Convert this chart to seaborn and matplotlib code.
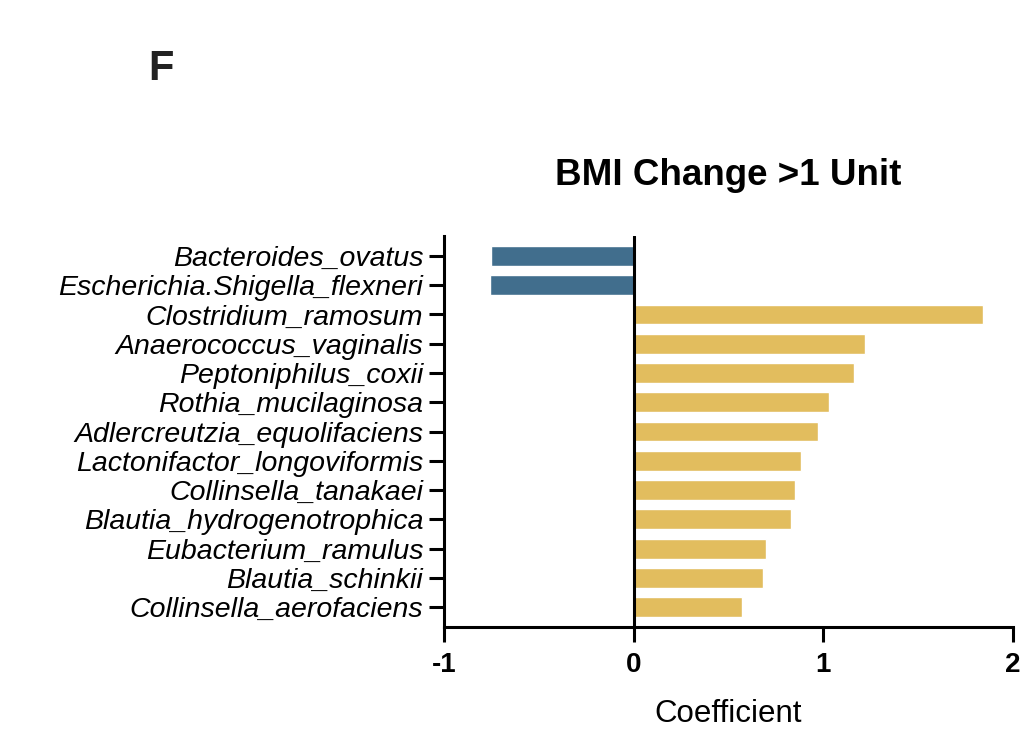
import numpy as np
import pandas as pd
import matplotlib
matplotlib.use('Agg')
import matplotlib.pyplot as plt
import seaborn as sns

# ── Date ──────────────────────────────────────────────────────────────────────
species = [
    'Bacteroides_ovatus',
    'Escherichia.Shigella_flexneri',
    'Clostridium_ramosum',
    'Anaerococcus_vaginalis',
    'Peptoniphilus_coxii',
    'Rothia_mucilaginosa',
    'Adlercreutzia_equolifaciens',
    'Lactonifactor_longoviformis',
    'Collinsella_tanakaei',
    'Blautia_hydrogenotrophica',
    'Eubacterium_ramulus',
    'Blautia_schinkii',
    'Collinsella_aerofaciens',
]
coefficients = [-0.75, -0.76, 1.84, 1.22, 1.16, 1.03, 0.97, 0.88, 0.85, 0.83, 0.70, 0.68, 0.57]
x_ticks = [-1, 0, 1, 2]

BLUE = '#416e8d'
GOLD = '#e2bd5e'

df = pd.DataFrame({'species': species, 'coef': coefficients})
df['sign'] = np.where(df['coef'] < 0, 'neg', 'pos')

sns.set_style('ticks')
plt.rcParams['font.family'] = ['Liberation Sans', 'DejaVu Sans']
plt.rcParams['text.color'] = 'black'
plt.rcParams['axes.labelcolor'] = 'black'
plt.rcParams['xtick.color'] = 'black'
plt.rcParams['ytick.color'] = 'black'

fig = plt.figure(figsize=(10.24, 7.33), dpi=100)
ax = fig.add_axes([0.4336, 0.1446, 0.5557, 0.5334])

sns.barplot(data=df, x='coef', y='species', hue='sign', orient='h',
            palette={'neg': BLUE, 'pos': GOLD}, width=0.68, dodge=False,
            legend=False, saturation=1, ax=ax)

ax.axvline(0, color='black', lw=2.2, zorder=3)

ax.set_xlim(-1, 2)
ax.set_ylim(len(species) - 1 + 0.68, -0.68)
ax.set_xticks(x_ticks)
ax.set_xticklabels([str(t) for t in x_ticks], fontsize=20, fontweight='bold')
ax.set_yticks(range(len(species)))
ax.set_yticklabels(species, fontsize=20.5, style='italic')

for side in ['top', 'right']:
    ax.spines[side].set_visible(False)
for side in ['left', 'bottom']:
    ax.spines[side].set_linewidth(2.2)
    ax.spines[side].set_color('black')

ax.tick_params(axis='y', left=True, length=11, width=2.2, pad=4)
ax.tick_params(axis='x', bottom=True, length=11, width=2.2, pad=7)

ax.set_xlabel('Coefficient', fontsize=22.5, labelpad=15)
ax.set_ylabel('')
ax.set_title('BMI Change >1 Unit', fontsize=26.5, fontweight='bold', pad=37)

fig.text(0.1575, 0.906, 'F', fontsize=30, fontweight='bold', color='#222222',
         ha='center', va='center')

fig.savefig('out.png', dpi=100)
